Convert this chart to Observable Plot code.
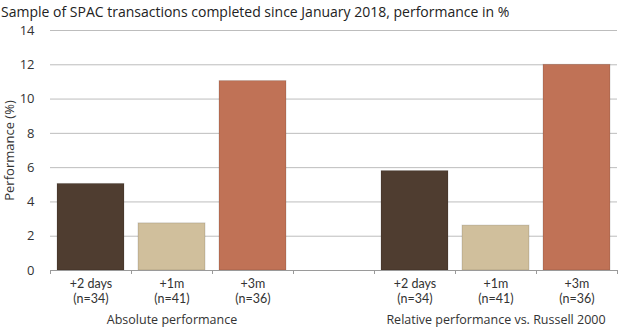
<!DOCTYPE html>
<html><head><meta charset="utf-8">
<script src="https://cdn.jsdelivr.net/npm/d3@7"></script>
<script src="https://cdn.jsdelivr.net/npm/@observablehq/plot@0.6"></script>
<style>
body{margin:0;background:#fff;font-family:"Open Sans",sans-serif;position:relative;}
#title{position:absolute;top:0;left:0;font-size:14px;line-height:24px;height:24px;color:#222;padding-left:1px;white-space:nowrap;z-index:1;}
</style></head>
<body>
<div id="title">Sample of SPAC transactions completed since January 2018, performance in %</div>
<div id="chart"></div>
<script>
const groups = ["Absolute performance", "Relative performance vs. Russell 2000"];
const periods = ["+2 days", "+1m", "+3m"];
const counts = [34, 41, 36];
const absolute = [5.05, 2.75, 11.05];
const relative = [5.8, 2.62, 12.0];
const yTicks = [0, 2, 4, 6, 8, 10, 12, 14];
const colors = ["#4f3d30", "#d0bf9c", "#c07256"];

const seriesValues = [absolute, relative];
const rows = [];
groups.forEach((g, gi) => periods.forEach((p, pi) => rows.push({
  key: g + "|" + p, group: g, period: p, n: counts[pi], value: seriesValues[gi][pi]
})));
const GAP = "gap";
const domain = [...rows.slice(0, 3).map(d => d.key), GAP, ...rows.slice(3).map(d => d.key)];
const periodOf = new Map(rows.map(d => [d.key, d.period]));
const countOf = new Map(rows.map(d => [d.key, "(n=" + d.n + ")"]));
const groupLabels = groups.map(g => ({group: g, key: g + "|" + periods[1]}));

const W = 620, H = 333, ML = 50, MR = 3, MT = 30, MB = 63;
const step = (W - ML - MR) / domain.length;

const plot = Plot.plot({
  width: W, height: H,
  marginLeft: ML, marginRight: MR, marginTop: MT, marginBottom: MB,
  style: {fontFamily: "Open Sans, sans-serif", fontSize: "12px", color: "#333", background: "transparent"},
  x: {domain, paddingInner: 0.17, paddingOuter: 0.085, align: 0.5},
  y: {domain: [0, 14]},
  color: {domain: periods, range: colors},
  marks: [
    Plot.gridY(yTicks.filter(t => t > 0), {stroke: "#bdbdbd", strokeOpacity: 1}),
    Plot.barY(rows, {x: "key", y: "value", fill: "period", stroke: "#00000022", strokeWidth: 1}),
    Plot.ruleY([0], {stroke: "#9a9a9a", strokeWidth: 1}),
    Plot.ruleX(domain, {x: d => d, dx: -step / 2, y1: 0, y2: 0, stroke: "#9a9a9a", insetBottom: -4}),
    Plot.ruleX([domain[domain.length - 1]], {x: d => d, dx: step / 2, y1: 0, y2: 0, stroke: "#9a9a9a", insetBottom: -4}),
    Plot.axisY({ticks: yTicks, tickSize: 0, tickPadding: 16, fontSize: 13, label: "Performance (%)", labelAnchor: "center", labelArrow: "none", labelOffset: 46}),
    Plot.axisX({tickSize: 0, tickPadding: 9, fontSize: 12.5, fontFamily: "Lato, sans-serif", tickFormat: k => periodOf.get(k) || "", label: null}),
    Plot.axisX({tickSize: 0, tickPadding: 24, fontSize: 12.5, fontFamily: "Lato, sans-serif", tickFormat: k => countOf.get(k) || "", label: null}),
    Plot.text(groupLabels, {x: "key", text: "group", frameAnchor: "bottom", dy: 53, fontSize: 12.5, fill: "#333"})
  ]
});
document.getElementById("chart").appendChild(plot);
</script>
</body></html>
